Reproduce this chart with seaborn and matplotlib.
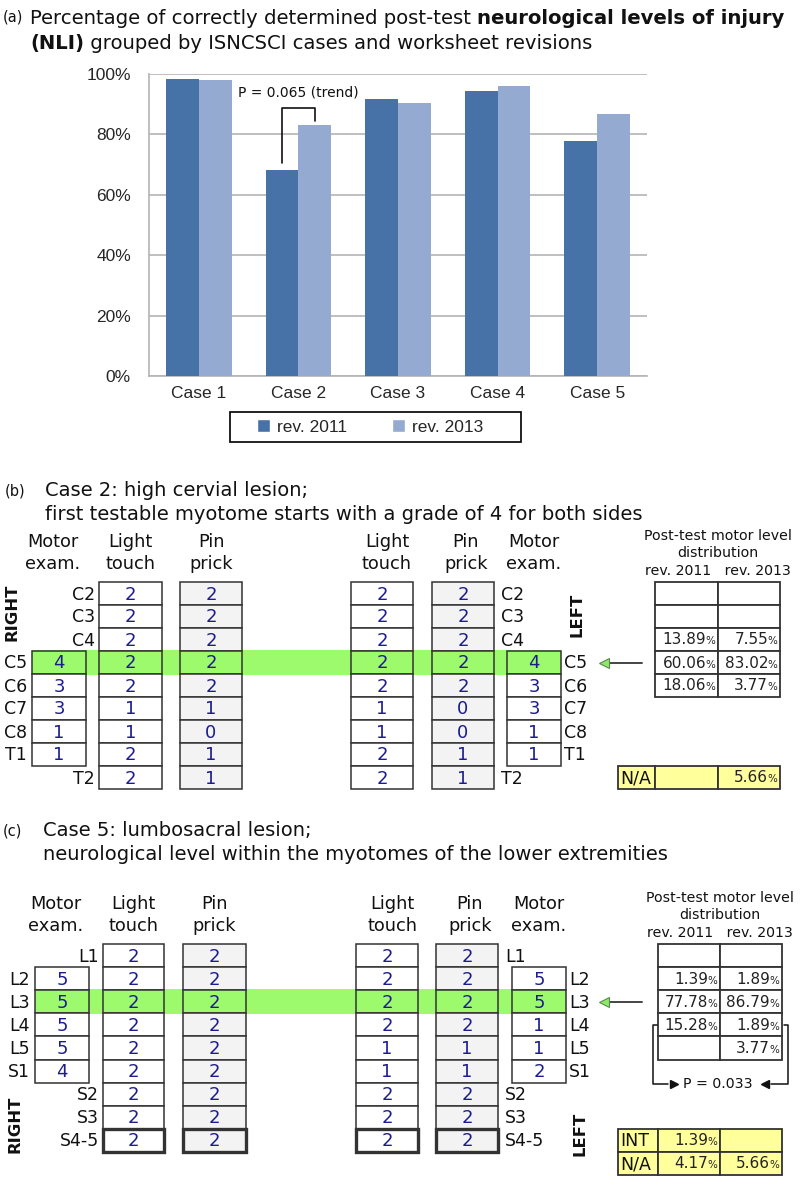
import matplotlib
matplotlib.use("Agg")
import matplotlib.pyplot as plt
import pandas as pd
import seaborn as sns
from matplotlib.patches import Rectangle, Patch

# ---- data -------------------------------------------------------------
cases = ["Case 1", "Case 2", "Case 3", "Case 4", "Case 5"]
revisions = ["rev. 2011", "rev. 2013"]
nli_2011 = [98.5, 68.1, 91.6, 94.5, 77.8]
nli_2013 = [98.0, 83.0, 90.5, 96.1, 86.8]
y_ticks = [0, 20, 40, 60, 80, 100]

# case 2 (cervical) worksheet
b_levels = ["C2", "C3", "C4", "C5", "C6", "C7", "C8", "T1", "T2"]
b_right_lt = [2, 2, 2, 2, 2, 1, 1, 2, 2]
b_right_pp = [2, 2, 2, 2, 2, 1, 0, 1, 1]
b_right_motor = [4, 3, 3, 1, 1]          # C5..T1
b_left_lt = [2, 2, 2, 2, 2, 1, 1, 2, 2]
b_left_pp = [2, 2, 2, 2, 2, 0, 0, 1, 1]
b_left_motor = [4, 3, 3, 1, 1]           # C5..T1
b_dist_2011 = ["", "", "13.89", "60.06", "18.06"]
b_dist_2013 = ["", "", "7.55", "83.02", "3.77"]
b_extra = [("N/A", "", "5.66")]

# case 5 (lumbosacral) worksheet
c_levels = ["L1", "L2", "L3", "L4", "L5", "S1", "S2", "S3", "S4-5"]
c_right_lt = [2, 2, 2, 2, 2, 2, 2, 2, 2]
c_right_pp = [2, 2, 2, 2, 2, 2, 2, 2, 2]
c_right_motor = [5, 5, 5, 5, 4]          # L2..S1
c_left_lt = [2, 2, 2, 2, 1, 1, 2, 2, 2]
c_left_pp = [2, 2, 2, 2, 1, 1, 2, 2, 2]
c_left_motor = [5, 5, 1, 1, 2]           # L2..S1
c_dist_2011 = ["", "1.39", "77.78", "15.28", ""]
c_dist_2013 = ["", "1.89", "86.79", "1.89", "3.77"]
c_extra = [("INT", "1.39", ""), ("N/A", "4.17", "5.66")]

DARK = "#4672a8"
LIGHT = "#94aad0"
GREEN = "#9dfa6c"
NAVY = "#1c1c8c"
EDGE = "#333333"
GRAYCELL = "#f3f3f3"
YELLOW = "#ffff9c"
GRID = "#b4b4b4"
INK = "#111111"

sns.set_style("white")
plt.rcParams["font.family"] = ["DejaVu Sans"]

fig = plt.figure(figsize=(8, 11.77), dpi=100)
bg = fig.add_axes([0, 0, 1, 1])
bg.set_xlim(0, 800)
bg.set_ylim(1177, 0)
bg.axis("off")


def rich_line(x, y, parts, size):
    """parts: list of (text, weight) drawn one after the other on one line."""
    prev = None
    for txt, w in parts:
        if prev is None:
            prev = bg.text(x, y, txt, fontsize=size, fontweight=w, ha="left",
                           va="bottom", color=INK)
        else:
            prev = bg.annotate(txt, xy=(1, 0), xycoords=prev, fontsize=size,
                               fontweight=w, ha="left", va="bottom", color=INK)


# ---- (a) bar chart ---------------------------------------------------
bg.text(3, 21, "(a)", fontsize=10.5, va="baseline", color=INK)
rich_line(30, 28, [("Percentage of correctly determined post-test ", "normal"),
                   ("neurological levels of injury", "bold")], 14.1)
rich_line(30, 53, [("(NLI)", "bold"),
                   (" grouped by ISNCSCI cases and worksheet revisions", "normal")], 14.1)

df = pd.DataFrame({
    "case": cases * 2,
    "revision": [revisions[0]] * len(cases) + [revisions[1]] * len(cases),
    "value": nli_2011 + nli_2013,
})

ax = fig.add_axes([149 / 800, 1 - 376 / 1177, 498 / 800, 302 / 1177])
sns.barplot(data=df, x="case", y="value", hue="revision", palette=[DARK, LIGHT],
            width=0.66, saturation=1, gap=0, legend=False, ax=ax, zorder=3,
            linewidth=0, edgecolor="none")
ax.set_xlim(-0.5, len(cases) - 0.5)
ax.set_ylim(0, 100)
ax.set_yticks(y_ticks)
ax.set_yticklabels([f"{v}%" for v in y_ticks], family="Liberation Sans", fontsize=12.5)
ax.set_xticks(range(len(cases)))
ax.set_xticklabels(cases, family="Liberation Sans", fontsize=12.5)
ax.set_xticks([i - 0.5 for i in range(len(cases) + 1)], minor=True)
ax.tick_params(axis="x", which="major", length=0, pad=7)
ax.tick_params(axis="x", which="minor", length=6, width=1, color=GRID, direction="out")
ax.tick_params(axis="y", length=5, width=1, color=GRID, pad=8, direction="out")
ax.set_xlabel("")
ax.set_ylabel("")
ax.grid(axis="y", color=GRID, linewidth=1.2)
ax.set_axisbelow(True)
for s in ["top", "right"]:
    ax.spines[s].set_visible(False)
for s in ["left", "bottom"]:
    ax.spines[s].set_color(GRID)
    ax.spines[s].set_linewidth(1.2)

# significance bracket case 2
ax.plot([0.835, 0.835, 1.165, 1.165], [70.6, 88.8, 88.8, 84.5], color=INK,
        lw=1.2, zorder=4, clip_on=False)
ax.text(1.0, 93.8, "P = 0.065 (trend)", ha="center", va="center", fontsize=10,
        color=INK)

# legend
bg.add_patch(Rectangle((230, 412), 291, 30, fc="white", ec=INK, lw=1.3))
handles = [Patch(facecolor=DARK), Patch(facecolor=LIGHT)]
fig.legend(handles, revisions, loc="center", bbox_to_anchor=(370 / 800, 1 - 427 / 1177),
           ncol=2, frameon=False, prop={"family": "Liberation Sans", "size": 12.5},
           handlelength=0.75, handleheight=0.75, handletextpad=0.4, columnspacing=2.6)

# ---- worksheet panels --------------------------------------------------
lw_last = [False]


def cell_col(x0, x1, top, rh, start, values, face, hl, n_rows):
    for i, v in enumerate(values):
        r = start + i
        y0 = top + r * rh
        fc = GREEN if r == hl else face
        thick = lw_last[0] and r == n_rows - 1
        bg.add_patch(Rectangle((x0, y0), x1 - x0, rh, fc=fc, ec=EDGE,
                               lw=2.4 if thick else 1.1, zorder=3 if thick else 2))
        bg.text((x0 + x1) / 2, y0 + rh / 2 + 1, str(v), ha="center", va="center",
                color=NAVY, fontsize=13, zorder=4)


def pct_cell(xr, yc, val, size=11):
    if not val:
        return
    bg.text(xr - 3, yc + 5, "%", ha="right", va="baseline", fontsize=7.5,
            color="#222222", zorder=4)
    bg.text(xr - 12, yc + 5, val, ha="right", va="baseline", fontsize=size,
            color="#222222", zorder=4)


def draw_case(top, rh, levels, r_lt, r_pp, r_mot, l_lt, l_pp, l_mot, mot_start, hl,
              cols, dist_x, dist11, dist13, extra, right_pos, left_pos, thick):
    lw_last[0] = thick
    n = len(levels)
    rm0, rm1, rl0, rl1, rp0, rp1, ll0, ll1, lp0, lp1, lm0, lm1 = cols
    # highlight band
    bg.add_patch(Rectangle((rm0, top + hl * rh - 1), lm1 - rm0, rh + 2, fc=GREEN,
                           ec="none", zorder=1))
    cell_col(rm0, rm1, top, rh, mot_start, r_mot, "white", hl, -1)
    cell_col(rl0, rl1, top, rh, 0, r_lt, "white", hl, n)
    cell_col(rp0, rp1, top, rh, 0, r_pp, GRAYCELL, hl, n)
    cell_col(ll0, ll1, top, rh, 0, l_lt, "white", hl, n)
    cell_col(lp0, lp1, top, rh, 0, l_pp, GRAYCELL, hl, n)
    cell_col(lm0, lm1, top, rh, mot_start, l_mot, "white", hl, -1)
    # level labels
    for r, lab in enumerate(levels):
        yc = top + r * rh + rh / 2 + 1
        if mot_start <= r < mot_start + len(r_mot):
            bg.text(rm0 - 5, yc, lab, ha="right", va="center", fontsize=12.5, color=INK)
            bg.text(lm1 + 3, yc, lab, ha="left", va="center", fontsize=12.5, color=INK)
        else:
            bg.text(rl0 - 4, yc, lab, ha="right", va="center", fontsize=12.5, color=INK)
            bg.text(lp1 + 7, yc, lab, ha="left", va="center", fontsize=12.5, color=INK)
    # headers
    heads = [((rm0 + rm1) / 2 - 6, "Motor", "exam."), ((rl0 + rl1) / 2, "Light", "touch"),
             ((rp0 + rp1) / 2, "Pin", "prick"), ((ll0 + ll1) / 2 + 5, "Light", "touch"),
             ((lp0 + lp1) / 2 + 3, "Pin", "prick"), ((lm0 + lm1) / 2, "Motor", "exam.")]
    for xc, l1, l2 in heads:
        bg.text(xc, top - 35, l1, ha="center", va="baseline", fontsize=12.8, color=INK)
        bg.text(xc, top - 13, l2, ha="center", va="baseline", fontsize=12.8, color=INK)
    bg.text(right_pos[0], right_pos[1], "RIGHT", rotation=90, ha="center", va="center",
            fontsize=11.8, fontweight="bold", color=INK)
    bg.text(left_pos[0], left_pos[1], "LEFT", rotation=90, ha="center", va="center",
            fontsize=11.8, fontweight="bold", color=INK)
    # arrow to distribution
    ya = top + hl * rh + rh / 2
    bg.plot([607, 642], [ya, ya], color="#444444", lw=1.4)
    bg.plot([604], [ya], marker="<", ms=6.5, mfc="#8ee86a", mec="#5a8a4a", mew=0.8)
    # distribution table
    d0, d1, d2 = dist_x
    dc = (d0 + d2) / 2
    bg.text(dc, top - 42, "Post-test motor level", ha="center", va="baseline",
            fontsize=10.2, color=INK)
    bg.text(dc, top - 25, "distribution", ha="center", va="baseline", fontsize=10.2, color=INK)
    bg.text(dc, top - 7, "rev. 2011   rev. 2013", ha="center", va="baseline",
            fontsize=10.2, color=INK)
    for r, (v11, v13) in enumerate(zip(dist11, dist13)):
        y0 = top + r * rh
        bg.add_patch(Rectangle((d0, y0), d1 - d0, rh, fc="white", ec=EDGE, lw=1.3, zorder=2))
        bg.add_patch(Rectangle((d1, y0), d2 - d1, rh, fc="white", ec=EDGE, lw=1.3, zorder=2))
        pct_cell(d1, y0 + rh / 2, v11)
        pct_cell(d2, y0 + rh / 2, v13)
    # yellow summary rows
    for k, (lab, v11, v13) in enumerate(extra):
        y0 = top + (n - 1 + k) * rh
        for xa, xb in [(618, d0), (d0, d1), (d1, d2)]:
            bg.add_patch(Rectangle((xa, y0), xb - xa, rh, fc=YELLOW, ec=EDGE, lw=1.3, zorder=2))
        bg.text(620, y0 + rh / 2 + 1, lab, ha="left", va="center", fontsize=12.5,
                color=INK, zorder=4)
        pct_cell(d1, y0 + rh / 2, v11)
        pct_cell(d2, y0 + rh / 2, v13)


# (b)
bg.text(5, 496, "(b)", fontsize=10.5, va="baseline", color=INK)
bg.text(45, 496, "Case 2: high cervial lesion;", fontsize=14, va="baseline", color=INK)
bg.text(45, 520, "first testable myotome starts with a grade of 4 for both sides", fontsize=14,
        va="baseline", color=INK)
draw_case(582, 23.0, b_levels, b_right_lt, b_right_pp, b_right_motor,
          b_left_lt, b_left_pp, b_left_motor, 3, 3,
          (32, 86, 99, 162, 180, 242, 351, 413, 432, 494, 507, 561),
          (655, 718, 780), b_dist_2011, b_dist_2013, b_extra,
          (12, 612), (577, 615), False)

# (c)
bg.text(3, 836, "(c)", fontsize=10.5, va="baseline", color=INK)
bg.text(43, 836, "Case 5: lumbosacral lesion;", fontsize=14, va="baseline", color=INK)
bg.text(43, 860, "neurological level within the myotomes of the lower extremities", fontsize=14,
        va="baseline", color=INK)
draw_case(944, 23.1, c_levels, c_right_lt, c_right_pp, c_right_motor,
          c_left_lt, c_left_pp, c_left_motor, 1, 2,
          (35, 89, 103, 164, 183, 246, 356, 418, 436, 498, 512, 566),
          (658, 720, 782), c_dist_2011, c_dist_2013, c_extra,
          (15, 1124), (580, 1134), True)

# P-value bracket in (c)
bg.plot([657, 653, 653, 668], [1025, 1025, 1084, 1084], color=INK, lw=1.1)
bg.plot([784, 788, 788, 771], [1025, 1025, 1084, 1084], color=INK, lw=1.1)
bg.plot([674], [1084], marker=">", ms=6, color=INK)
bg.plot([765], [1084], marker="<", ms=6, color=INK)
bg.text(718, 1084, "P = 0.033", ha="center", va="center", fontsize=10.2, color=INK)

fig.savefig("out.png", dpi=100)
